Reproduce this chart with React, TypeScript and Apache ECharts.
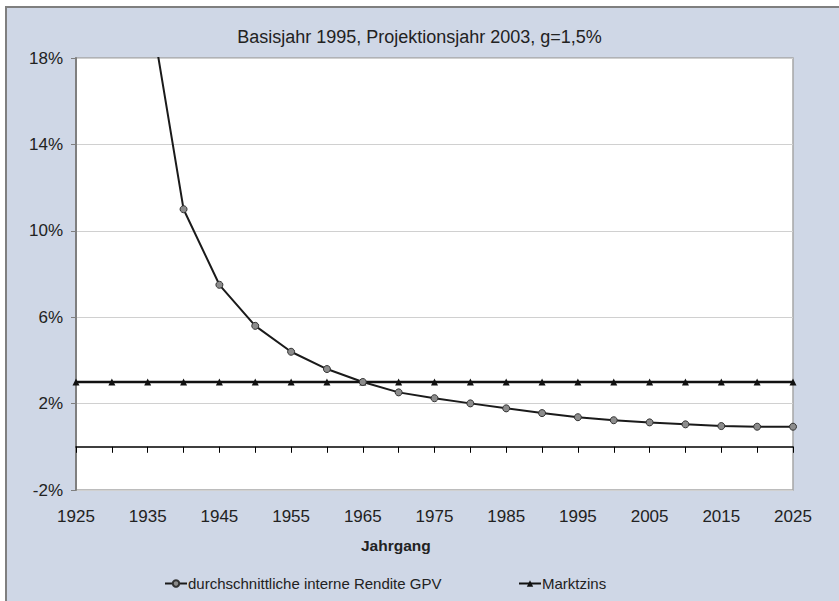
import React, { useEffect, useRef } from "react";
import * as echarts from "echarts";

const years = [1925, 1930, 1935, 1940, 1945, 1950, 1955, 1960, 1965, 1970, 1975, 1980, 1985, 1990, 1995, 2000, 2005, 2010, 2015, 2020, 2025];
const gpvValues: (number | null)[] = [null, null, 21.0, 11.0, 7.5, 5.6, 4.4, 3.6, 3.0, 2.52, 2.25, 2.01, 1.78, 1.56, 1.37, 1.23, 1.13, 1.04, 0.96, 0.93, 0.93];
const marktzinsValues = [3, 3, 3, 3, 3, 3, 3, 3, 3, 3, 3, 3, 3, 3, 3, 3, 3, 3, 3, 3, 3];
const titleText = "Basisjahr 1995, Projektionsjahr 2003, g=1,5%";
const seriesNames = ["durchschnittliche interne Rendite GPV", "Marktzins"];
const xName = "Jahrgang";

const FONT = "Liberation Sans, Arial, sans-serif";

export default function App() {
  const ref = useRef<HTMLDivElement>(null);
  useEffect(() => {
    if (!ref.current) return;
    const chart = echarts.init(ref.current, undefined, { renderer: "svg" });
    const gpv = years.map((y, i) => [y, gpvValues[i]]).filter((p) => p[1] !== null);
    const mz = years.map((y, i) => [y, marktzinsValues[i]]);
    chart.setOption({
      animation: false,
      backgroundColor: "#ffffff",
      textStyle: { fontFamily: FONT },
      graphic: [
        {
          type: "rect",
          z: -10,
          silent: true,
          shape: { x: 6, y: 7, width: 860, height: 620 },
          style: { fill: "#cfd7e6", stroke: "#7f7f7f", lineWidth: 2 },
        },
        {
          type: "text",
          left: 361,
          top: 537,
          style: { text: xName, font: "bold 15.5px " + FONT, fill: "#222222" },
        },
      ],
      title: {
        text: titleText,
        left: "center",
        top: 23,
        textStyle: { fontSize: 18, fontWeight: "normal", color: "#222222", fontFamily: FONT },
      },
      legend: [
        {
          data: [seriesNames[0]],
          left: 159,
          top: 571,
          itemWidth: 22,
          itemHeight: 8,
          textStyle: { fontSize: 15, color: "#222222", fontFamily: FONT, padding: [0, 0, 0, -4] },
        },
        {
          data: [seriesNames[1]],
          left: 513,
          top: 571,
          itemWidth: 22,
          itemHeight: 8,
          textStyle: { fontSize: 15, color: "#222222", fontFamily: FONT, padding: [0, 0, 0, -4] },
        },
      ],
      grid: {
        left: 76,
        right: 46,
        top: 58,
        bottom: 111,
        show: true,
        backgroundColor: "#ffffff",
        borderColor: "#a6a6a6",
        borderWidth: 1.5,
      },
      xAxis: [
        {
          type: "value",
          min: 1925,
          max: 2025,
          interval: 5,
          axisLine: { onZero: true, lineStyle: { color: "#000000", width: 1.5 } },
          axisTick: { show: true, inside: false, length: 6, lineStyle: { color: "#000000", width: 1 } },
          axisLabel: { show: false },
          splitLine: { show: false },
        },
        {
          type: "value",
          position: "bottom",
          min: 1925,
          max: 2025,
          interval: 10,
          axisLine: { show: false, onZero: false },
          axisTick: { show: false },
          axisLabel: {
            show: true,
            fontSize: 17,
            color: "#222222",
            margin: 18,
            fontFamily: FONT,
            formatter: (v: number) => String(v),
          },
          splitLine: { show: false },
        },
      ],
      yAxis: {
        type: "value",
        min: -2,
        max: 18,
        interval: 4,
        axisLine: { show: true, lineStyle: { color: "#7f7f7f", width: 2 } },
        axisTick: { show: true, inside: false, length: 5, lineStyle: { color: "#7f7f7f" } },
        axisLabel: { formatter: "{value}%", fontSize: 17, color: "#222222", margin: 13, fontFamily: FONT },
        splitLine: { show: true, lineStyle: { color: "#d0d0d0", width: 1 } },
      },
      series: [
        {
          name: seriesNames[0],
          type: "line",
          xAxisIndex: 0,
          data: gpv,
          symbol: "circle",
          symbolSize: 7,
          showAllSymbol: true,
          lineStyle: { color: "#1a1a1a", width: 2 },
          itemStyle: { color: "#8c8c8c", borderColor: "#333333", borderWidth: 1 },
          z: 3,
        },
        {
          name: seriesNames[1],
          type: "line",
          xAxisIndex: 0,
          data: mz,
          symbol: "triangle",
          symbolSize: 7,
          showAllSymbol: true,
          lineStyle: { color: "#111111", width: 2.5 },
          itemStyle: { color: "#111111" },
          z: 2,
        },
      ],
    });
    return () => chart.dispose();
  }, []);
  return (
    <div
      ref={ref}
      style={{ position: "fixed", left: 0, top: 0, width: 839, height: 601 }}
    />
  );
}
